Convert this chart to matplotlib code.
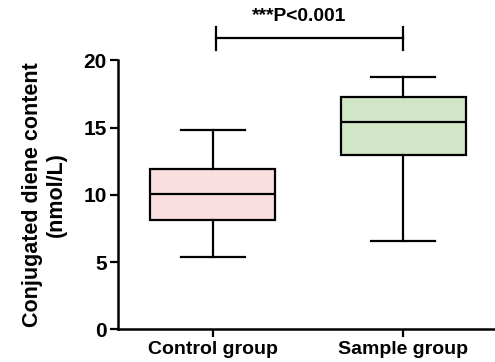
import matplotlib.pyplot as plt

plt.rcParams['font.family'] = ['Liberation Sans', 'DejaVu Sans']
plt.rcParams['font.weight'] = 'bold'

# data
groups = ['Control group', 'Sample group']
whis_low = [5.4, 6.6]
q1 = [8.1, 13.0]
medians = [10.1, 15.45]
q3 = [11.9, 17.3]
whis_high = [14.8, 18.8]
fill_colors = ['#fadfe0', '#d0e6c6']
p_text = '***P<0.001'

stats = []
for i in range(len(groups)):
    stats.append({'label': groups[i], 'whislo': whis_low[i], 'q1': q1[i],
                  'med': medians[i], 'q3': q3[i], 'whishi': whis_high[i],
                  'fliers': []})

fig = plt.figure(figsize=(4.95, 3.62), dpi=100)
ax = fig.add_axes([0.238, 0.090, 0.762, 0.743])

lw = 1.6
bp = ax.bxp(stats, positions=[1, 2], widths=0.656, patch_artist=True,
            showfliers=False,
            boxprops=dict(linewidth=lw, edgecolor='black'),
            medianprops=dict(color='black', linewidth=lw),
            whiskerprops=dict(color='black', linewidth=lw),
            capprops=dict(color='black', linewidth=lw),
            capwidths=0.336)
for patch, c in zip(bp['boxes'], fill_colors):
    patch.set_facecolor(c)

ax.set_xlim(0.503, 2.48)
ax.set_ylim(0, 20)
ax.set_yticks([0, 5, 10, 15, 20])
ax.spines['top'].set_visible(False)
ax.spines['right'].set_visible(False)
ax.spines['left'].set_linewidth(1.8)
ax.spines['bottom'].set_linewidth(1.8)
ax.spines['left'].set_bounds(0, 20)
ax.tick_params(axis='both', width=1.6, length=6, pad=2)
ax.tick_params(axis='y', labelsize=15)
ax.tick_params(axis='x', labelsize=14)
ax.set_xticks([1, 2])
ax.set_xticklabels(groups, fontweight='bold')
for lab in ax.get_yticklabels():
    lab.set_fontweight('bold')

ax.set_ylabel('Conjugated diene content\n(nmol/L)', fontsize=15.5,
              fontweight='bold', linespacing=1.2)
ax.yaxis.set_label_coords(-0.135, 0.5)

# significance bracket
yb = 21.64
ax.plot([1.017, 2.0], [yb, yb], color='black', lw=lw, clip_on=False)
ax.plot([1.017, 1.017], [yb - 0.86, yb + 0.86], color='black', lw=lw, clip_on=False)
ax.plot([2.0, 2.0], [yb - 0.86, yb + 0.86], color='black', lw=lw, clip_on=False)
ax.text(1.455, 22.95, p_text, ha='center', va='baseline', fontsize=13.9,
        fontweight='bold', clip_on=False)

plt.savefig('out.png', dpi=100)
